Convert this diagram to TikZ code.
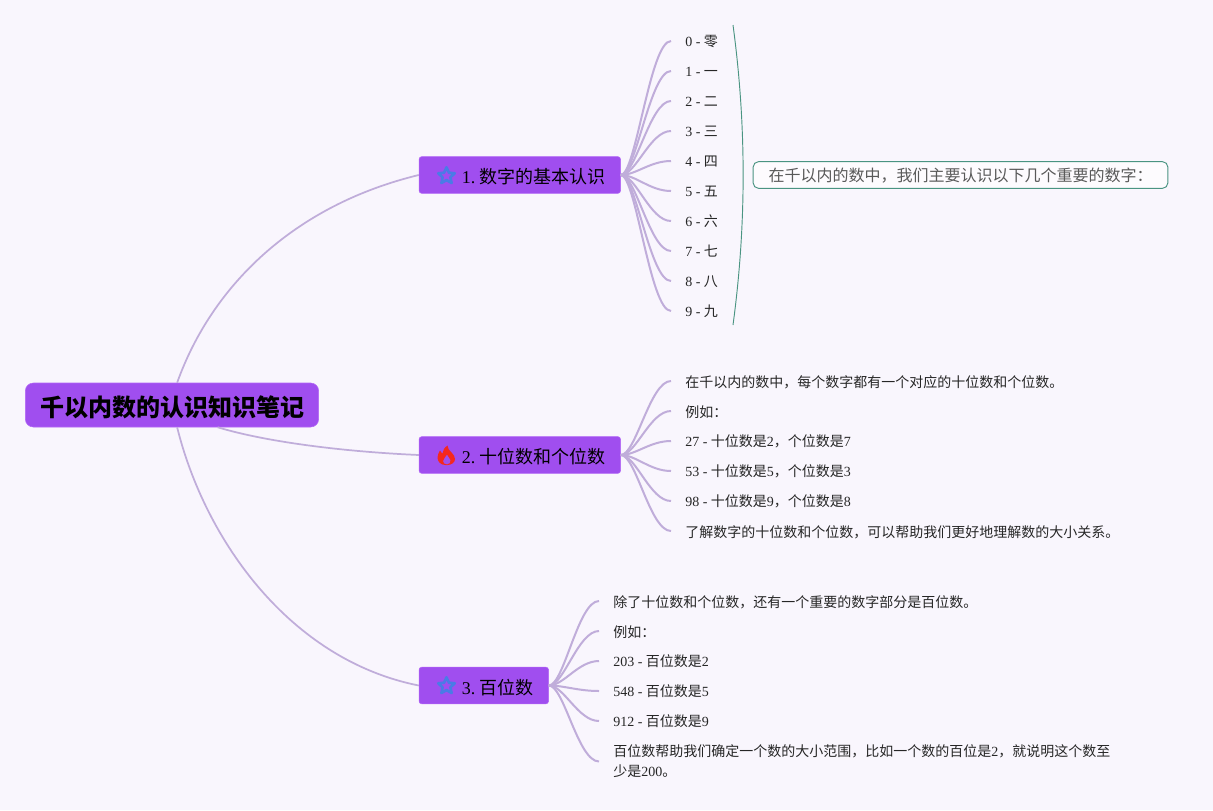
\documentclass[tikz,border=0pt]{standalone}
\usepackage{fontspec}
\setmainfont{Liberation Serif}
\newfontfamily\cjk{Noto Sans CJK SC}
\usetikzlibrary{shapes.geometric, positioning, calc}
\definecolor{pagebg}{HTML}{F9F6FD}
\definecolor{boxpurple}{HTML}{A04EEF}
\definecolor{boxedge}{HTML}{B266F5}
\definecolor{linkpurple}{HTML}{C0ADDA}
\definecolor{notegreen}{HTML}{4A9482}
\definecolor{starblue}{HTML}{4A7BE6}
\definecolor{flamered}{HTML}{F5281E}
\tikzstyle{rootbox} = [draw=boxedge, fill=boxpurple, rounded corners=6pt, minimum width=220pt, minimum height=33pt, inner sep=0pt, text height=19.5pt, text depth=2.8pt, font=\fontsize{18}{22}\selectfont\cjk\bfseries]
\tikzstyle{branchbox} = [draw=boxedge, fill=boxpurple, rounded corners=2pt, minimum height=27.5pt, inner ysep=0pt, inner xsep=11.6pt, align=right, text height=15pt, text depth=2pt, font=\fontsize{13.5}{18}\selectfont]
\tikzstyle{leafwrap} = [anchor=west, inner xsep=10.5pt, inner ysep=0pt, align=left, text=black!85, font=\fontsize{10.5}{15}\selectfont]
\tikzstyle{leaf} = [leafwrap, text height=10pt, text depth=2pt]
\tikzstyle{leafcjk} = [leafwrap, text height=11pt, text depth=1.5pt]
\tikzstyle{notebox} = [draw=notegreen, fill=white!60!pagebg, rounded corners=4pt, line width=0.7pt, minimum width=311pt, minimum height=20pt, inner sep=0pt, text=black!65, text height=12pt, text depth=2.9pt, font=\fontsize{12}{16}\selectfont\cjk]
\tikzstyle{starmark} = [star, star points=5, star point ratio=2.1, draw=starblue, line width=2pt, line join=round, minimum size=13pt, inner sep=0pt]
\tikzstyle{link} = [draw=linkpurple, line width=1.3pt]
\tikzstyle{sublink} = [draw=linkpurple, line width=1.5pt]
\begin{document}
\begin{tikzpicture}[x=0.75pt, y=-0.75pt]
\fill[pagebg] (0,0) rectangle (1213,810);
\useasboundingbox (0,0) rectangle (1213,810);
% links from the root go under the boxes
\node[rootbox] (root) at (172,405) {千以内数的认识知识笔记};
\node[branchbox, anchor=west, text width=127.9pt] (bnum) at (418.8,175) {1.\hspace{0.2em}{\cjk 数字的基本认识}};
\node[branchbox, anchor=west, text width=127.9pt] (bten) at (418.8,455) {2.\hspace{0.2em}{\cjk 十位数和个位数}};
\node[branchbox, anchor=west, text width=73.9pt] (bhun) at (418.8,685.5) {3.\hspace{0.2em}{\cjk 百位数}};
\node[starmark] (staro) at (446.5,176) {};
\node[starmark] (starh) at (446.5,686) {};
\draw[link] (root.77) .. controls (212,285) and (295,205) .. (bnum.west);
\draw[link] (root.-26) .. controls (270,443) and (350,452) .. (bten.west);
\draw[link] (root.-77) .. controls (205,540) and (290,660) .. (bhun.west);
% flame
\coordinate (flame) at (446.5,455.5);
\fill[flamered, even odd rule, shift={(flame)}] (-1,9.5) .. controls (-6,9.5) and (-9,6) .. (-9,2) .. controls (-9,-1) and (-7.5,-3) .. (-6.5,-5) .. controls (-5.5,-3.5) and (-5,-2.5) .. (-4,-2) .. controls (-4,-5) and (-2,-8) .. (1,-10) .. controls (1,-7) and (3,-5) .. (5,-3) .. controls (7,-1) and (8.5,1) .. (8.5,3.5) .. controls (8.5,7) and (5,9.5) .. (1,9.5) -- cycle (0.5,9) .. controls (3,9) and (4.5,7) .. (4,4.5) .. controls (3.5,2.5) and (1.5,1.5) .. (0.5,-1) .. controls (-0.5,1.5) and (-3.5,3) .. (-3.5,5.5) .. controls (-3.5,7.5) and (-2,9) .. (0.5,9) -- cycle;
% 1. digits
\foreach \i/\t in {0/零,1/一,2/二,3/三,4/四,5/五,6/六,7/七,8/八,9/九} {
    \node[leaf] (num\i) at (671,41+30*\i) {\i{} - {\cjk \t}};
    \draw[sublink] (bnum.east) .. controls (636,175) and (650,0 |- num\i.west) .. (num\i.west);
}
\coordinate (notetop) at (733,25);
\coordinate (notebot) at (733,325);
\draw[notegreen, line width=0.7pt] (notetop) .. controls (746.5,125) and (746.5,225) .. (notebot);
\node[notebox] (note) at (960.5,175) {在千以内的数中，我们主要认识以下几个重要的数字：};
% 2. tens
\node[leafcjk] (ten0) at (671,381) {\cjk 在千以内的数中，每个数字都有一个对应的十位数和个位数。};
\node[leafcjk] (ten1) at (671,411) {\cjk 例如：};
\node[leaf] (ten2) at (671,441) {27 - {\cjk 十位数是}2{\cjk ，个位数是}7};
\node[leaf] (ten3) at (671,471) {53 - {\cjk 十位数是}5{\cjk ，个位数是}3};
\node[leaf] (ten4) at (671,501) {98 - {\cjk 十位数是}9{\cjk ，个位数是}8};
\node[leafcjk] (ten5) at (671,531) {\cjk 了解数字的十位数和个位数，可以帮助我们更好地理解数的大小关系。};
\foreach \i in {0,...,5} {
    \draw[sublink] (bten.east) .. controls (636,455) and (650,0 |- ten\i.west) .. (ten\i.west);
}
% 3. hundreds
\node[leafcjk] (hun0) at (599,601) {\cjk 除了十位数和个位数，还有一个重要的数字部分是百位数。};
\node[leafcjk] (hun1) at (599,631) {\cjk 例如：};
\node[leaf] (hun2) at (599,661) {203 - {\cjk 百位数是}2};
\node[leaf] (hun3) at (599,691) {548 - {\cjk 百位数是}5};
\node[leaf] (hun4) at (599,721) {912 - {\cjk 百位数是}9};
\node[leafwrap] (hun5) at (599,761.5) {{\cjk 百位数帮助我们确定一个数的大小范围，比如一个数的百位是}2{\cjk ，就说明这个数至}\\{\cjk 少是}200{\cjk 。}};
\foreach \i in {0,...,5} {
    \draw[sublink] (bhun.east) .. controls (564,685.5) and (578,0 |- hun\i.west) .. (hun\i.west);
}
\end{tikzpicture}
\end{document}
